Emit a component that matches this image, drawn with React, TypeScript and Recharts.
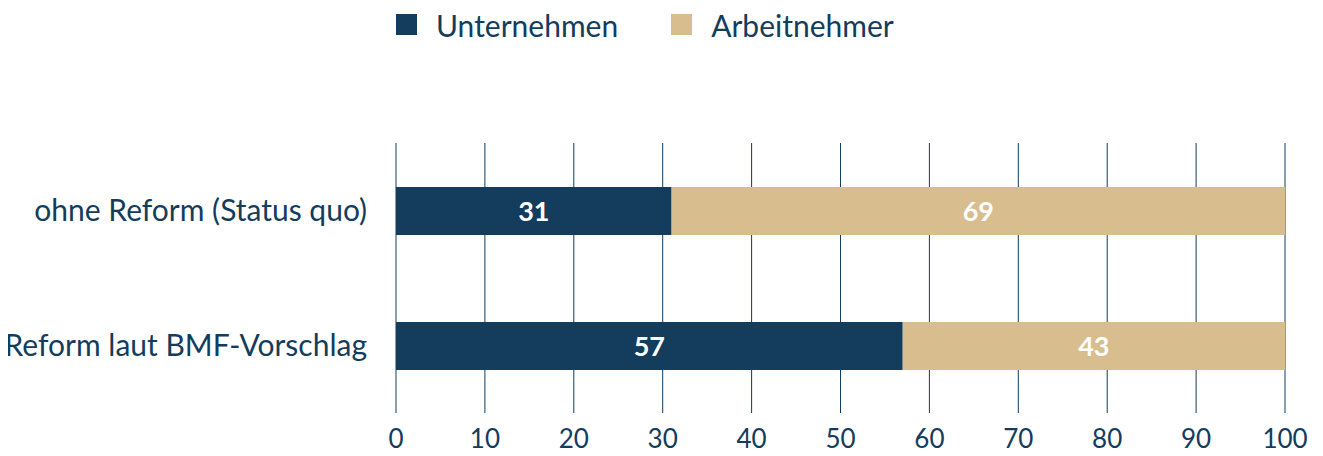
import React from 'react'
import { BarChart, Bar, XAxis, YAxis, CartesianGrid, LabelList } from 'recharts'

const categories = ['ohne Reform (Status quo)', 'Reform laut BMF-Vorschlag']
const unternehmen = [31, 57]
const arbeitnehmer = [69, 43]
const xTicks = [0, 10, 20, 30, 40, 50, 60, 70, 80, 90, 100]
const seriesNames = ['Unternehmen', 'Arbeitnehmer']

const DARK = '#133c5d'
const TAN = '#d8bd8f'
const FONT = 'Lato, "Open Sans", sans-serif'

const data = categories.map((name, i) => ({
  name,
  unternehmen: unternehmen[i],
  arbeitnehmer: arbeitnehmer[i],
}))

function LegendBox() {
  const colors = [DARK, TAN]
  return (
    <div
      style={{
        position: 'absolute',
        top: 0,
        left: 396,
        height: 49,
        display: 'flex',
        alignItems: 'center',
        fontFamily: FONT,
        fontSize: 30,
        color: DARK,
      }}
    >
      {seriesNames.map((label, i) => (
        <div key={label} style={{ display: 'flex', alignItems: 'center', marginRight: i === 0 ? 53 : 0 }}>
          <span style={{ width: 21, height: 21, background: colors[i], display: 'inline-block', marginRight: 19 }} />
          <span>{label}</span>
        </div>
      ))}
    </div>
  )
}

export default function App() {
  return (
    <div style={{ margin: -8, width: 1323, height: 456, background: '#fff', position: 'relative' }}>
      <LegendBox />
      <BarChart
        width={1323}
        height={456}
        data={data}
        layout="vertical"
        margin={{ top: 143, right: 38, bottom: 0, left: 0 }}
        barSize={48}
      >
        <CartesianGrid horizontal={false} stroke={DARK} strokeOpacity={1} />
        <XAxis
          type="number"
          domain={[0, 100]}
          ticks={xTicks}
          axisLine={false}
          tickLine={false}
          height={43}
          tickMargin={11}
          tick={{ fontSize: 26, fill: DARK, fontFamily: FONT }}
        />
        <YAxis
          type="category"
          dataKey="name"
          width={396}
          axisLine={false}
          tickLine={false}
          tickMargin={23}
          tick={{ fontSize: 30, fill: DARK, fontFamily: FONT }}
        />
        <Bar dataKey="unternehmen" name={seriesNames[0]} stackId="a" fill={DARK} isAnimationActive={false}>
          <LabelList dataKey="unternehmen" position="center" fill="#fff" fontSize={27} fontWeight={700} fontFamily={FONT} />
        </Bar>
        <Bar dataKey="arbeitnehmer" name={seriesNames[1]} stackId="a" fill={TAN} isAnimationActive={false}>
          <LabelList dataKey="arbeitnehmer" position="center" fill="#fff" fontSize={27} fontWeight={700} fontFamily={FONT} />
        </Bar>
      </BarChart>
    </div>
  )
}
